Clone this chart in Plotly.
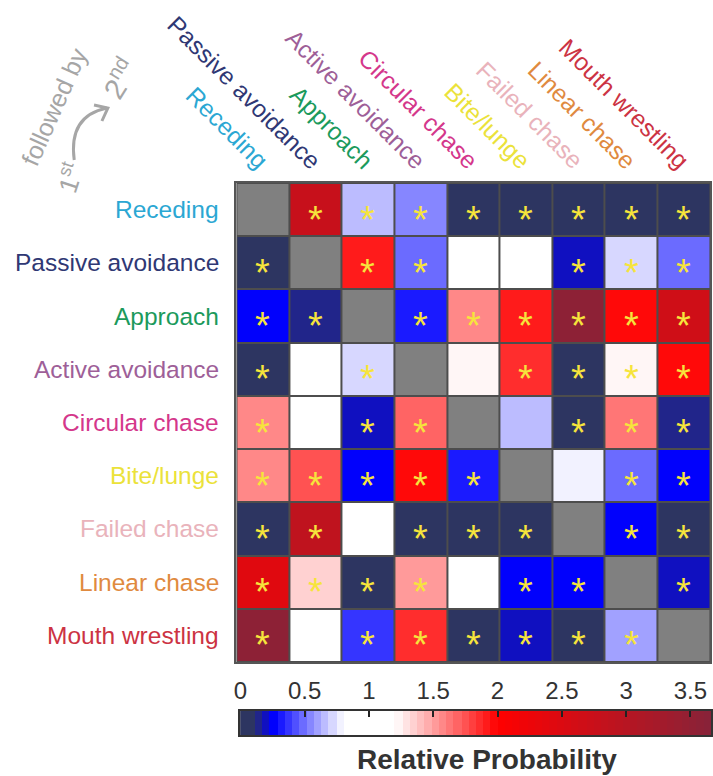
import numpy as np
import plotly.graph_objects as go

# Behaviour categories (rows: 1st behaviour, columns: behaviour that follows)
behaviours = ["Receding", "Passive avoidance", "Approach", "Active avoidance",
              "Circular chase", "Bite/lunge", "Failed chase", "Linear chase",
              "Mouth wrestling"]
label_colors = ["#2ba7d3", "#2f3874", "#1b9a5c", "#9e5f98", "#d4378b",
                "#ebe23a", "#e9b3bb", "#e08a3f", "#cc3343"]

# Relative probability of transition (None = same behaviour)
rel_prob = [
    [None, 2.76, 0.64, 0.53, 0.0, 0.0, 0.0, 0.0, 0.0],
    [0.0, None, 1.90, 0.50, 1.00, 1.00, 0.19, 0.70, 0.50],
    [0.25, 0.14, None, 0.32, 1.60, 1.90, 3.60, 1.95, 2.65],
    [0.0, 1.00, 0.70, None, 1.22, 1.85, 0.0, 1.22, 1.95],
    [1.60, 1.00, 0.19, 1.70, None, 0.65, 0.0, 1.65, 0.14],
    [1.55, 1.75, 0.25, 1.95, 0.32, None, 0.76, 0.50, 0.25],
    [0.0, 2.87, 1.00, 0.0, 0.0, 0.0, None, 0.28, 0.0],
    [2.43, 1.36, 0.0, 1.52, 1.00, 0.25, 0.25, None, 0.19],
    [3.60, 1.00, 0.395, 1.85, 0.0, 0.19, 0.0, 0.60, None],
]

# 1 = significant transition (marked with an asterisk)
significant = [
    [0, 1, 1, 1, 1, 1, 1, 1, 1],
    [1, 0, 1, 1, 0, 0, 1, 1, 1],
    [1, 1, 0, 1, 1, 1, 1, 1, 1],
    [1, 0, 1, 0, 0, 1, 1, 1, 1],
    [1, 0, 1, 1, 0, 0, 1, 1, 1],
    [1, 1, 1, 1, 1, 0, 0, 1, 1],
    [1, 1, 0, 1, 1, 1, 0, 1, 1],
    [1, 1, 1, 1, 0, 1, 1, 0, 1],
    [1, 0, 1, 1, 1, 1, 1, 1, 0],
]

cbar_ticks = [0, 0.5, 1, 1.5, 2, 2.5, 3, 3.5]
cbar_ticktext = ["0", "0.5", "1", "1.5", "2", "2.5", "3", "3.5"]

ZMAX = 3.66
N_BINS = 64
W, H = 713, 776
FONT = "Liberation Sans, Arial, sans-serif"

# Diverging map: navy -> blue -> white (around 1) -> red -> maroon
anchors = [(0.0, "#2d3561"), (0.10, "#2d3561"), (0.20, "#1010c0"),
           (0.26, "#0000ff"), (0.80, "#ffffff"), (1.20, "#ffffff"),
           (2.00, "#ff0000"), (ZMAX, "#872339")]


def hex_rgb(h):
    h = h.lstrip("#")
    return np.array([int(h[k:k + 2], 16) for k in (0, 2, 4)], dtype=float)


def base_color(v):
    for (v0, c0), (v1, c1) in zip(anchors[:-1], anchors[1:]):
        if v0 <= v <= v1:
            t = 0.0 if v1 == v0 else (v - v0) / (v1 - v0)
            rgb = hex_rgb(c0) * (1 - t) + hex_rgb(c1) * t
            return "rgb({:.0f},{:.0f},{:.0f})".format(*rgb)
    return anchors[-1][1]


# Discrete 64-level colour scale
colorscale = []
for i in range(N_BINS):
    c = base_color((i + 0.5) / N_BINS * ZMAX)
    colorscale.append([i / N_BINS, c])
    colorscale.append([(i + 1) / N_BINS, c])

n = len(behaviours)
diag = [[1 if i == j else None for j in range(n)] for i in range(n)]


def px_x(p):
    return p / W


def px_y(p):
    return 1 - p / H


fig = go.Figure()

fig.add_trace(go.Heatmap(
    z=rel_prob, x=behaviours, y=behaviours, colorscale=colorscale,
    zmin=0, zmax=ZMAX, showscale=False, xgap=2, ygap=2, hoverongaps=False,
))
fig.add_trace(go.Heatmap(
    z=diag, x=behaviours, y=behaviours,
    colorscale=[[0, "#808080"], [1, "#808080"]], showscale=False,
    xgap=2, ygap=2, hoverongaps=False,
))

# Colour bar drawn as a strip on its own axes
strip_x = np.linspace(0, ZMAX, 400)
fig.add_trace(go.Heatmap(
    z=[strip_x], x=strip_x, y=[0], colorscale=colorscale, zmin=0, zmax=ZMAX,
    showscale=False, xaxis="x2", yaxis="y2", hoverinfo="skip",
))

annotations = []

# Significance asterisks
for i in range(n):
    for j in range(n):
        if significant[i][j]:
            annotations.append(dict(
                x=behaviours[j], y=behaviours[i], xref="x", yref="y",
                xanchor="center", yanchor="middle",
                text="*", showarrow=False, yshift=-10,
                font=dict(family=FONT, size=38, color="#f6e43c"),
            ))

# Row labels (1st behaviour)
for name, col in zip(behaviours, label_colors):
    annotations.append(dict(
        x=px_x(216), y=name, xref="paper", yref="y", xanchor="right",
        yanchor="middle", text=name, showarrow=False,
        font=dict(family=FONT, size=24.5, color=col),
    ))

# Column labels (following behaviour)
for name, col in zip(behaviours, label_colors):
    annotations.append(dict(
        x=name, y=px_y(177), xref="x", yref="paper", xanchor="right",
        yanchor="bottom", text=name, showarrow=False, textangle=45,
        xshift=13, font=dict(family=FONT, size=24.5, color=col),
    ))

# Reading-direction hint
grey = "#a6a6a6"
annotations += [
    dict(x=px_x(48), y=px_y(106), xref="paper", yref="paper",
         xanchor="center", yanchor="middle",
         text="followed by", showarrow=False, textangle=-66,
         font=dict(family=FONT, size=25, color=grey)),
    dict(x=px_x(114), y=px_y(78), xref="paper", yref="paper",
         xanchor="center", yanchor="middle",
         text="2<sup>nd</sup>", showarrow=False, textangle=-58,
         font=dict(family=FONT, size=29, color=grey)),
    dict(x=px_x(64), y=px_y(178), xref="paper", yref="paper",
         xanchor="center", yanchor="middle",
         text="1<sup>st</sup>", showarrow=False, textangle=-72,
         font=dict(family=FONT, size=26, color=grey)),
    dict(x=px_x(485), y=px_y(759), xref="paper", yref="paper",
         xanchor="center", yanchor="middle",
         text="<b>Relative Probability</b>", showarrow=False,
         font=dict(family=FONT, size=28, color="#333333")),
]


def path(points, cmd):
    return cmd.format(*[v for p in points for v in (px_x(p[0]), px_y(p[1]))])


shapes = [
    dict(type="path", xref="paper", yref="paper",
         path=path([(68, 160), (62, 116), (101, 108)], "M {} {} Q {} {} {} {}"),
         line=dict(color=grey, width=3)),
    dict(type="path", xref="paper", yref="paper",
         path=path([(88, 105), (102, 108), (96, 121)], "M {} {} L {} {} L {} {}"),
         line=dict(color=grey, width=3)),
]

fig.update_layout(
    width=W, height=H, margin=dict(l=0, r=0, t=0, b=0),
    paper_bgcolor="white", plot_bgcolor="#4d4d4d",
    annotations=annotations, shapes=shapes,
    xaxis=dict(domain=[px_x(232), px_x(711)], type="category",
               categoryorder="array", categoryarray=behaviours,
               range=[-0.5, n - 0.5], showticklabels=False, ticks="",
               showgrid=False, zeroline=False, showline=True, mirror=True,
               linecolor="#555555", linewidth=2, anchor="y"),
    yaxis=dict(domain=[px_y(662), px_y(183)], type="category",
               categoryorder="array", categoryarray=behaviours,
               range=[n - 0.5, -0.5], showticklabels=False, ticks="",
               showgrid=False, zeroline=False, showline=True, mirror=True,
               linecolor="#555555", linewidth=2, anchor="x"),
    xaxis2=dict(domain=[px_x(236), px_x(712)], range=[0, ZMAX], anchor="y2",
                side="top", ticks="inside", ticklen=6, tickwidth=2,
                tickcolor="#222222", tickvals=cbar_ticks,
                ticktext=cbar_ticktext, showgrid=False, zeroline=False,
                showline=True, mirror=True, linecolor="#333333", linewidth=2,
                tickfont=dict(family=FONT, size=24, color="#333333")),
    yaxis2=dict(domain=[px_y(735), px_y(711)], range=[-0.5, 0.5],
                anchor="x2", showticklabels=False, ticks="", showgrid=False,
                zeroline=False, showline=True, mirror=True,
                linecolor="#333333", linewidth=2),
)

fig.write_html("out.html")
